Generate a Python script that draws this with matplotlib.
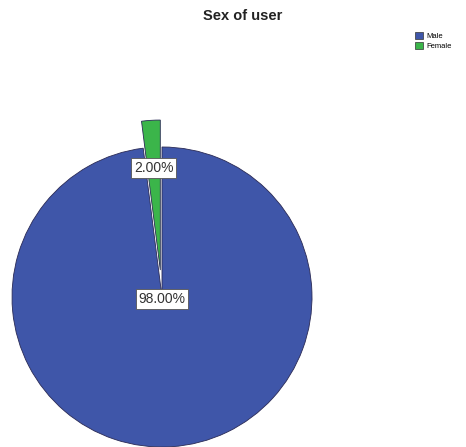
import numpy as np
import matplotlib
matplotlib.use("Agg")
import matplotlib.pyplot as plt
from matplotlib.patches import Patch

plt.rcParams['font.family'] = ['Liberation Sans', 'DejaVu Sans']

# data
labels = ['Male', 'Female']
percents = [98.0, 2.0]
colors = ['#3F56A9', '#3BB54A']

W, H = 466, 447
fig = plt.figure(figsize=(W / 100, H / 100), dpi=100)
ax = fig.add_axes([0, 0, 1, 1])

cx, cy, r = 162, H - 297, 150
# explode is an absolute offset, so scale it by the radius
wedges, texts, autotexts = ax.pie(
    percents, colors=colors, startangle=90, counterclock=False,
    explode=[0, 0.18 * r], center=(cx, cy), radius=r,
    autopct='%1.2f%%', pctdistance=0.5,
    wedgeprops=dict(edgecolor='#2a2a55', linewidth=0.6),
    textprops=dict(fontsize=10, color='#333333'))

# put the percent boxes where SPSS puts them
for w, t in zip(wedges, autotexts):
    if w.theta2 - w.theta1 > 180:
        t.set_position((cx, cy - 2))
    else:
        mid = np.deg2rad((w.theta1 + w.theta2) / 2)
        wx, wy = w.center
        t.set_position((wx + 0.68 * r * np.cos(mid), wy + 0.68 * r * np.sin(mid)))
    t.set_bbox(dict(boxstyle='square,pad=0.2', facecolor='white',
                    edgecolor='#555555', linewidth=0.6))

ax.set_xlim(0, W)
ax.set_ylim(0, H)
ax.set_aspect('equal')
ax.axis('off')

fig.text(243 / W, 1 - 16 / H, 'Sex of user', ha='center', va='center',
         fontsize=10.5, fontweight='bold', color='#222222')

handles = [Patch(facecolor=c, edgecolor='#333333', linewidth=0.5) for c in colors]
fig.legend(handles, labels, loc='upper left', bbox_to_anchor=(410 / W, 1 - 27 / H),
           frameon=False, fontsize=5.5, handlelength=1.0, handleheight=1.0,
           handletextpad=0.4, labelspacing=0.2, borderpad=0.2)

fig.savefig('out.png', dpi=100)
